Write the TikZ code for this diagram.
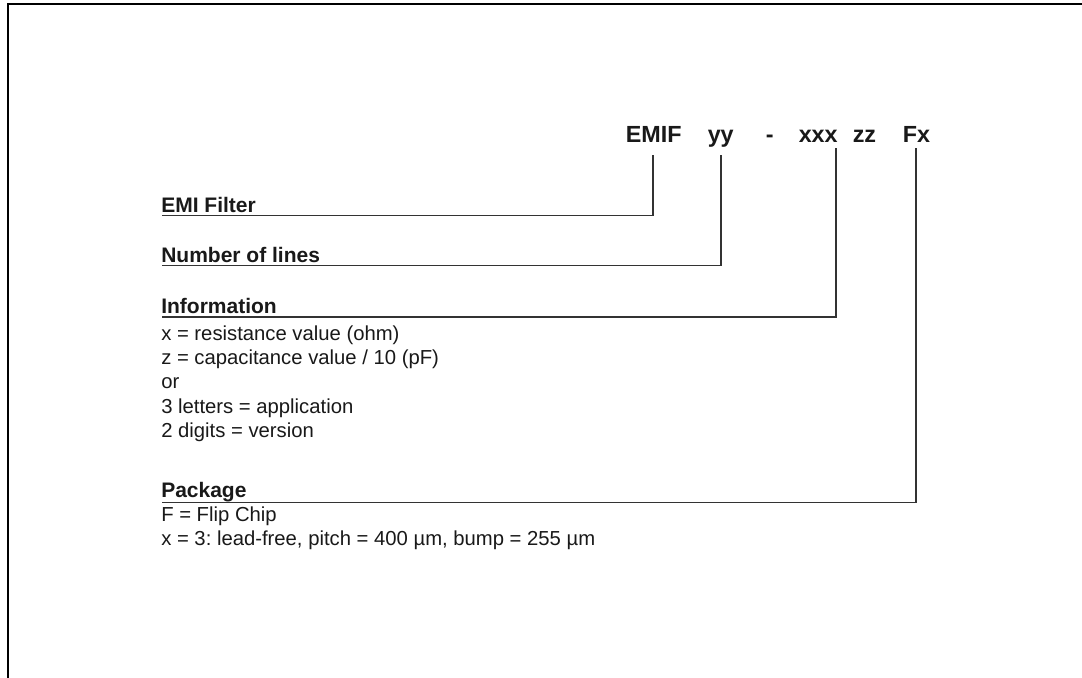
\documentclass[tikz,border=0pt]{standalone}
\usepackage{fontspec}
\setmainfont{Liberation Sans}
\frenchspacing
\begin{document}
\begin{tikzpicture}[x=0.75pt,y=-0.75pt,
  frame/.style={line width=1.4pt,black},
  conn/.style={line width=0.9pt,black!80},
  title/.style={anchor=base west,inner sep=0pt,font=\fontsize{17.5}{20}\selectfont\bfseries,text=black!90},
  lbl/.style={anchor=base west,inner sep=0pt,font=\fontsize{15.75}{18}\selectfont\bfseries,text=black!90},
  desc/.style={anchor=base west,inner sep=0pt,font=\fontsize{15.2}{18}\selectfont,text=black!90}]
\useasboundingbox (0,0) rectangle (1082,678);
\fill[white] (0,0) rectangle (1082,678);
% frame (top and left)
\draw[frame] (1082,4.3) -- (7.7,4.3) -- (7.7,678);
% title parts
\node[title] (t1) at (625.5,142.5) {EMIF};
\node[title] (t2) at (707.5,142.5) {yy};
\node[title] (t3) at (765.5,142.5) {-};
\node[title] (t4) at (798.5,142.5) {xxx};
\node[title] (t5) at (852.5,142.5) {zz};
\node[title] (t6) at (902.5,142.5) {Fx};
% labels
\node[lbl] (l1) at (161,212) {EMI Filter};
\node[lbl] (l2) at (161,262) {Number of lines};
\node[lbl] (l3) at (161,313) {Information};
\node[lbl] (l4) at (161,497.5) {Package};
% descriptions
\node[desc] (d1) at (161,340) {x = resistance value (ohm)};
\node[desc] (d2) at (161,364.5) {z = capacitance value / 10 (pF)};
\node[desc] (d3) at (161,388.5) {or};
\node[desc] (d4) at (161,413) {3 letters = application};
\node[desc] (d5) at (161,437) {2 digits = version};
\node[desc] (d6) at (161,521.5) {F = Flip Chip};
\node[desc] (d7) at (161,545.5) {x = 3: lead-free, pitch = 400 µm, bump = 255 µm};
% connector anchors
\coordinate (a1) at (653,155);
\coordinate (a2) at (721,155);
\coordinate (a3) at (836,148);
\coordinate (a4) at (916,148);
\coordinate (b1) at (162,215.5);
\coordinate (b2) at (162,265.5);
\coordinate (b3) at (162,317);
\coordinate (b4) at (162,502.5);
\draw[conn] (a1) |- (b1);
\draw[conn] (a2) |- (b2);
\draw[conn] (a3) |- (b3);
\draw[conn] (a4) |- (b4);
\end{tikzpicture}
\end{document}
